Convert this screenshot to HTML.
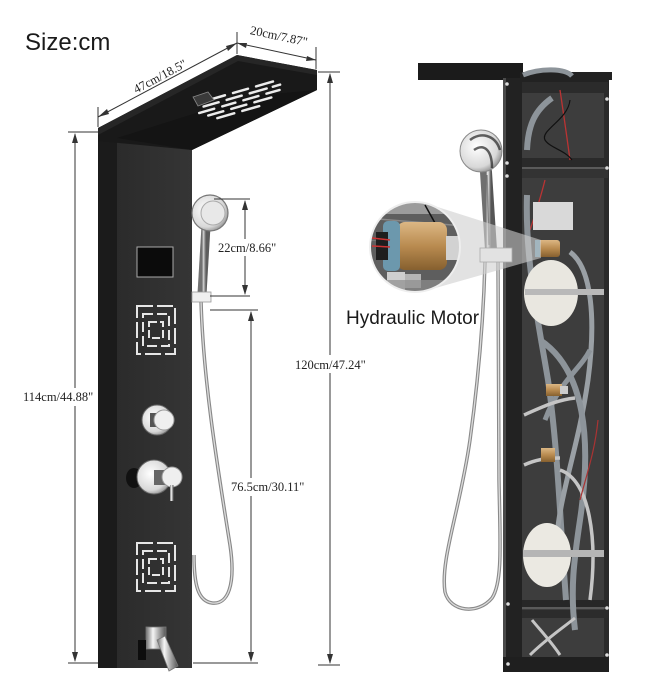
<!DOCTYPE html>
<html><head><meta charset="utf-8"><style>
html,body{margin:0;padding:0;background:#fff;}
svg{display:block}
.dim{font-family:"Liberation Serif",serif;font-size:12.5px;fill:#222;}
</style></head><body>
<svg width="671" height="700" viewBox="0 0 671 700" xmlns="http://www.w3.org/2000/svg">
<defs>
 <linearGradient id="chrome" x1="0" x2="1">
  <stop offset="0" stop-color="#6f6f6f"/><stop offset="0.35" stop-color="#f5f5f5"/><stop offset="0.65" stop-color="#a8a8a8"/><stop offset="1" stop-color="#555"/>
 </linearGradient>
 <radialGradient id="disc" cx="0.4" cy="0.4" r="0.7"><stop offset="0" stop-color="#fff"/><stop offset="0.7" stop-color="#d8d8d8"/><stop offset="1" stop-color="#7a7a7a"/></radialGradient>
 <linearGradient id="front" x1="0" x2="1"><stop offset="0" stop-color="#2b2b2b"/><stop offset="1" stop-color="#353535"/></linearGradient>
 <linearGradient id="brass" x1="0" y1="0" x2="0" y2="1"><stop offset="0" stop-color="#dcb784"/><stop offset="0.5" stop-color="#b98b50"/><stop offset="1" stop-color="#86602f"/></linearGradient>
 <clipPath id="mag"><circle cx="415" cy="247" r="45"/></clipPath>
</defs>

<rect width="671" height="700" fill="#fff"/>

<!-- Size:cm -->
<text x="25" y="50" font-family="Liberation Sans, sans-serif" font-size="24" fill="#1a1a1a">Size:cm</text>

<!-- ============ LEFT PANEL ============ -->
<!-- body -->
<rect x="98" y="136" width="20" height="532" fill="#1b1b1b"/>
<rect x="117" y="140" width="75" height="528" fill="url(#front)"/>
<!-- shower top plate -->
<polygon points="98,128 237,55 317,70 317,90 192,150 98,141" fill="#191919"/>
<polygon points="98,128 237,55 317,70 317,75 238,61 98,135" fill="#262626"/>
<polygon points="117,138 192,150 317,90 250,96" fill="#141414"/>
<!-- plate pattern -->
<g transform="translate(240,100) rotate(-16) scale(1,0.62)" fill="#ececec">
 <rect x="-30" y="-16" width="18" height="4" rx="1.5"/><rect x="-6" y="-16" width="18" height="4" rx="1.5"/><rect x="18" y="-16" width="20" height="4" rx="1.5"/>
 <rect x="-38" y="-8" width="18" height="4" rx="1.5"/><rect x="-14" y="-8" width="18" height="4" rx="1.5"/><rect x="10" y="-8" width="20" height="4" rx="1.5"/><rect x="34" y="-8" width="10" height="4" rx="1.5"/>
 <rect x="-44" y="0" width="18" height="4" rx="1.5"/><rect x="-20" y="0" width="16" height="4" rx="1.5"/><rect x="2" y="0" width="18" height="4" rx="1.5"/><rect x="26" y="0" width="16" height="4" rx="1.5"/>
 <rect x="-36" y="8" width="18" height="4" rx="1.5"/><rect x="-12" y="8" width="18" height="4" rx="1.5"/><rect x="12" y="8" width="20" height="4" rx="1.5"/>
 <rect x="-28" y="16" width="20" height="4" rx="1.5"/><rect x="-2" y="16" width="20" height="4" rx="1.5"/>
</g>
<polygon points="193,97 208,92 214,100 198,106" fill="#3a3a3a" stroke="#888" stroke-width="0.8"/>

<!-- display -->
<rect x="137" y="247" width="36" height="30" fill="#0b0b0b" stroke="#aaa" stroke-width="1"/>
<!-- square patterns -->
<g fill="none" stroke="#e6e6e6" stroke-width="2">
 <rect x="137" y="306" width="38" height="48" stroke-dasharray="16 4"/>
 <rect x="143" y="314" width="26" height="32" stroke-dasharray="10 4"/>
 <rect x="149" y="322" width="14" height="16" stroke-dasharray="8 3"/>
 <rect x="137" y="543" width="38" height="48" stroke-dasharray="16 4"/>
 <rect x="143" y="551" width="26" height="32" stroke-dasharray="10 4"/>
 <rect x="149" y="559" width="14" height="16" stroke-dasharray="8 3"/>
</g>
<!-- knob 1 -->
<circle cx="157" cy="420" r="15" fill="url(#disc)" stroke="#666" stroke-width="1"/>
<rect x="150" y="413" width="14" height="14" fill="#555"/>
<circle cx="164" cy="420" r="10" fill="#efefef" stroke="#999" stroke-width="1"/>
<!-- knob 2 -->
<ellipse cx="134" cy="478" rx="8" ry="10" fill="#111"/>
<circle cx="154" cy="477" r="17" fill="url(#disc)" stroke="#666" stroke-width="1"/>
<rect x="154" y="470" width="16" height="15" fill="#666"/>
<circle cx="172" cy="477" r="10" fill="#efefef" stroke="#999" stroke-width="1"/>
<rect x="170" y="485" width="3.5" height="16" fill="url(#chrome)"/>
<!-- spout -->
<rect x="146" y="627" width="20" height="22" fill="url(#chrome)" stroke="#777" stroke-width="0.8"/>
<polygon points="157,640 165,636 178,666 169,671" fill="url(#chrome)" stroke="#777" stroke-width="0.8"/>
<rect x="138" y="640" width="8" height="20" fill="#0d0d0d"/>

<!-- hose left -->
<path d="M201,300 C203,380 218,470 230,545 C236,585 228,605 212,603 C198,601 194,585 194,555" fill="none" stroke="#888" stroke-width="3.5"/>
<path d="M201,300 C203,380 218,470 230,545 C236,585 228,605 212,603 C198,601 194,585 194,555" fill="none" stroke="#dcdcdc" stroke-width="1.3"/>
<!-- hand shower left -->
<path d="M206,226 L202,294" stroke="url(#chrome)" stroke-width="9" stroke-linecap="round"/>
<path d="M206,226 L202,294" stroke="#777" stroke-width="9" stroke-opacity="0.25" fill="none"/>
<circle cx="210" cy="213" r="18" fill="url(#disc)" stroke="#777" stroke-width="1.2"/>
<circle cx="213" cy="213" r="12" fill="#e8e8e8" stroke="#aaa" stroke-width="1"/>
<rect x="192" y="292" width="19" height="10" fill="#efefef" stroke="#999" stroke-width="0.8"/>

<!-- ============ DIMENSIONS ============ -->
<g stroke="#333" stroke-width="1" fill="none">
 <!-- 114 -->
 <line x1="68" y1="132" x2="98" y2="132"/><line x1="68" y1="663" x2="98" y2="663"/>
 <line x1="75" y1="134" x2="75" y2="388"/><line x1="75" y1="406" x2="75" y2="661"/>
 <!-- 120 -->
 <line x1="318" y1="72" x2="340" y2="72"/><line x1="318" y1="665" x2="340" y2="665"/>
 <line x1="330" y1="74" x2="330" y2="355"/><line x1="330" y1="373" x2="330" y2="663"/>
 <!-- 22 -->
 <line x1="214" y1="199" x2="250" y2="199"/><line x1="210" y1="296" x2="250" y2="296"/>
 <line x1="245" y1="201" x2="245" y2="239"/><line x1="245" y1="256" x2="245" y2="294"/>
 <!-- 76.5 -->
 <line x1="210" y1="310" x2="258" y2="310"/><line x1="193" y1="663" x2="258" y2="663"/>
 <line x1="251" y1="312" x2="251" y2="478"/><line x1="251" y1="496" x2="251" y2="661"/>
 <!-- 47 -->
 <line x1="98" y1="107" x2="98" y2="127"/><line x1="237" y1="32" x2="237" y2="54"/>
 <line x1="98" y1="117" x2="237" y2="43"/>
 <!-- 20 -->
 <line x1="316" y1="47" x2="316" y2="69"/>
 <line x1="237" y1="43" x2="316" y2="60"/>
</g>
<g fill="#333">
 <polygon points="75,133 72,143 78,143"/><polygon points="75,662 72,652 78,652"/>
 <polygon points="330,73 327,83 333,83"/><polygon points="330,664 327,654 333,654"/>
 <polygon points="245,200 242,210 248,210"/><polygon points="245,295 242,285 248,285"/>
 <polygon points="251,311 248,321 254,321"/><polygon points="251,662 248,652 254,652"/>
 <polygon points="98,117 107,109 109,114"/><polygon points="237,43 226,46 228,51"/>
 <polygon points="237,43 247,43 246,48"/><polygon points="316,60 306,61 307,56"/>
</g>
<text class="dim" x="23" y="401">114cm/44.88"</text>
<text class="dim" x="295" y="369">120cm/47.24"</text>
<text class="dim" x="218" y="252">22cm/8.66"</text>
<text class="dim" x="231" y="491">76.5cm/30.11"</text>
<text class="dim" x="162" y="80" text-anchor="middle" transform="rotate(-28 162 80)">47cm/18.5"</text>
<text class="dim" x="278" y="40" text-anchor="middle" transform="rotate(12 278 40)">20cm/7.87"</text>

<!-- ============ RIGHT PANEL ============ -->
<rect x="418" y="63" width="105" height="17" fill="#1b1b1b"/>
<polygon points="520,72 612,72 612,80 520,80" fill="#222"/>
<rect x="503" y="78" width="106" height="594" fill="#222"/>
<rect x="503" y="78" width="3" height="594" fill="#4a4a4a"/>
<rect x="522" y="90" width="82" height="567" fill="#3d3d3d"/>
<rect x="604" y="90" width="5" height="567" fill="#2a2a2a"/>
<!-- top / crossbars -->
<rect x="522" y="82" width="86" height="11" fill="#2b2b2b"/>
<rect x="522" y="158" width="86" height="9" fill="#2a2a2a"/>
<rect x="522" y="169" width="86" height="9" fill="#333"/>
<line x1="522" y1="168" x2="608" y2="168" stroke="#777" stroke-width="1"/>
<rect x="522" y="600" width="86" height="7" fill="#272727"/>
<rect x="522" y="610" width="86" height="8" fill="#2c2c2c"/>
<line x1="522" y1="608" x2="608" y2="608" stroke="#777" stroke-width="1"/>
<rect x="503" y="657" width="106" height="15" fill="#1f1f1f"/>
<g fill="#ddd">
 <circle cx="507" cy="84" r="1.8"/><circle cx="607" cy="99" r="1.8"/><circle cx="507" cy="163" r="1.8"/><circle cx="607" cy="168" r="1.8"/>
 <circle cx="507" cy="176" r="1.8"/><circle cx="508" cy="604" r="1.8"/><circle cx="607" cy="608" r="1.8"/><circle cx="508" cy="664" r="1.8"/><circle cx="607" cy="655" r="1.8"/>
</g>
<!-- upper compartment pipes -->
<path d="M523,75 C540,68 565,68 572,76" stroke="#8d949a" stroke-width="5" fill="none"/>
<path d="M552,98 C535,110 528,125 527,150" stroke="#8d949a" stroke-width="6" fill="none"/>
<path d="M560,90 C563,110 566,130 570,160" stroke="#b33" stroke-width="1.3" fill="none"/>
<path d="M570,100 C568,120 540,130 545,140 C550,148 565,150 572,160" stroke="#111" stroke-width="1.2" fill="none"/>
<!-- lower compartment -->
<path d="M545,180 C540,200 535,215 530,230" stroke="#b33" stroke-width="1.3" fill="none"/>
<rect x="533" y="202" width="40" height="28" fill="#d9d9d9"/>
<path d="M527,195 C525,260 538,320 548,380 C558,450 560,520 566,600" stroke="#8d949a" stroke-width="6" fill="none"/>
<path d="M570,252 C592,268 596,320 588,380 C578,450 560,490 556,545" stroke="#9aa0a5" stroke-width="5" fill="none"/>
<ellipse cx="551" cy="293" rx="27" ry="33" fill="#e9e7e0"/>
<rect x="525" y="289" width="79" height="6" fill="#b9b9b9"/>
<path d="M540,340 C585,370 592,440 580,520 C574,560 570,590 575,630" stroke="#8d949a" stroke-width="6" fill="none"/>
<path d="M545,420 C560,380 580,370 590,350" stroke="#8d949a" stroke-width="5" fill="none"/>
<path d="M524,415 C540,408 556,400 575,398" stroke="#c5c5c5" stroke-width="3.5" fill="none"/>
<path d="M524,465 C535,460 545,458 560,458" stroke="#c5c5c5" stroke-width="3.5" fill="none"/>
<path d="M560,470 C590,480 598,540 590,600" stroke="#c5c5c5" stroke-width="3.5" fill="none"/>
<path d="M580,500 C588,470 595,450 598,420" stroke="#a33" stroke-width="1.2" fill="none"/>
<rect x="546" y="384" width="16" height="12" fill="url(#brass)"/>
<rect x="560" y="386" width="8" height="8" fill="#ccc"/>
<rect x="541" y="448" width="14" height="14" fill="url(#brass)"/>
<rect x="537" y="240" width="23" height="17" rx="3" fill="url(#brass)"/>
<rect x="535" y="240" width="5" height="17" fill="#5f8ea5"/>
<ellipse cx="547" cy="555" rx="24" ry="32" fill="#ebe9e2"/>
<rect x="523" y="550" width="81" height="7" fill="#b5b5b5"/>
<path d="M530,655 C545,640 560,630 575,618" stroke="#c5c5c5" stroke-width="3" fill="none"/>
<path d="M560,655 C550,640 540,630 532,620" stroke="#c5c5c5" stroke-width="3" fill="none"/>

<!-- right hose -->
<path d="M485,262 C484,300 481,360 470,440 C460,510 440,560 445,592 C450,612 478,615 492,598 C503,582 500,540 499,480 L498,262" fill="none" stroke="#8a8a8a" stroke-width="3.5"/>
<path d="M485,262 C484,300 481,360 470,440 C460,510 440,560 445,592 C450,612 478,615 492,598 C503,582 500,540 499,480 L498,262" fill="none" stroke="#dcdcdc" stroke-width="1.3"/>
<!-- right hand shower -->
<path d="M486,172 L491,250" stroke="url(#chrome)" stroke-width="12" stroke-linecap="round"/>
<path d="M487,175 L489,245" stroke="#333" stroke-width="1.5" stroke-opacity="0.5"/>
<ellipse cx="481" cy="151" rx="21" ry="21" fill="url(#disc)" stroke="#888" stroke-width="1"/>
<path d="M470,140 C480,132 495,134 500,150 M474,150 C484,143 492,150 492,168" stroke="#222" stroke-width="2.5" fill="none" stroke-opacity="0.7"/>

<!-- magnifier cone -->
<polygon points="425,203 541,240 541,258 425,291" fill="#cfcfcf" opacity="0.6"/>
<rect x="480" y="248" width="32" height="14" fill="#e2e2e2" stroke="#aaa" stroke-width="0.8"/>
<!-- magnifier circle -->
<g clip-path="url(#mag)">
 <rect x="365" y="200" width="100" height="95" fill="#5e5e5e"/>
 <rect x="365" y="200" width="100" height="14" fill="#9c9c9c"/>
 <line x1="365" y1="218" x2="465" y2="226" stroke="#888" stroke-width="1.5"/>
 <line x1="365" y1="240" x2="465" y2="246" stroke="#777" stroke-width="1"/>
 <line x1="425" y1="205" x2="440" y2="232" stroke="#111" stroke-width="1.5"/>
 <rect x="397" y="222" width="50" height="48" rx="8" fill="url(#brass)"/>
 <rect x="383" y="221" width="17" height="50" rx="5" fill="#6c98ad"/>
 <rect x="376" y="232" width="12" height="28" fill="#1e1e1e"/>
 <line x1="372" y1="238" x2="390" y2="240" stroke="#c33" stroke-width="1.5"/>
 <line x1="372" y1="246" x2="390" y2="247" stroke="#c33" stroke-width="1.5"/>
 <rect x="446" y="236" width="14" height="24" fill="#d2d2d2"/>
 <rect x="459" y="240" width="8" height="16" fill="#a8a8a8"/>
 <rect x="387" y="272" width="18" height="18" fill="#cfcfcf"/>
 <rect x="405" y="274" width="16" height="14" fill="#b5b5b5"/>
 <rect x="365" y="280" width="100" height="15" fill="#8d8d8d" opacity="0.7"/>
</g>
<circle cx="415" cy="247" r="45" fill="none" stroke="#eee" stroke-width="2"/>

<text x="346" y="324" font-family="Liberation Sans, sans-serif" font-size="19" fill="#1a1a1a">Hydraulic Motor</text>
</svg>
</body></html>
